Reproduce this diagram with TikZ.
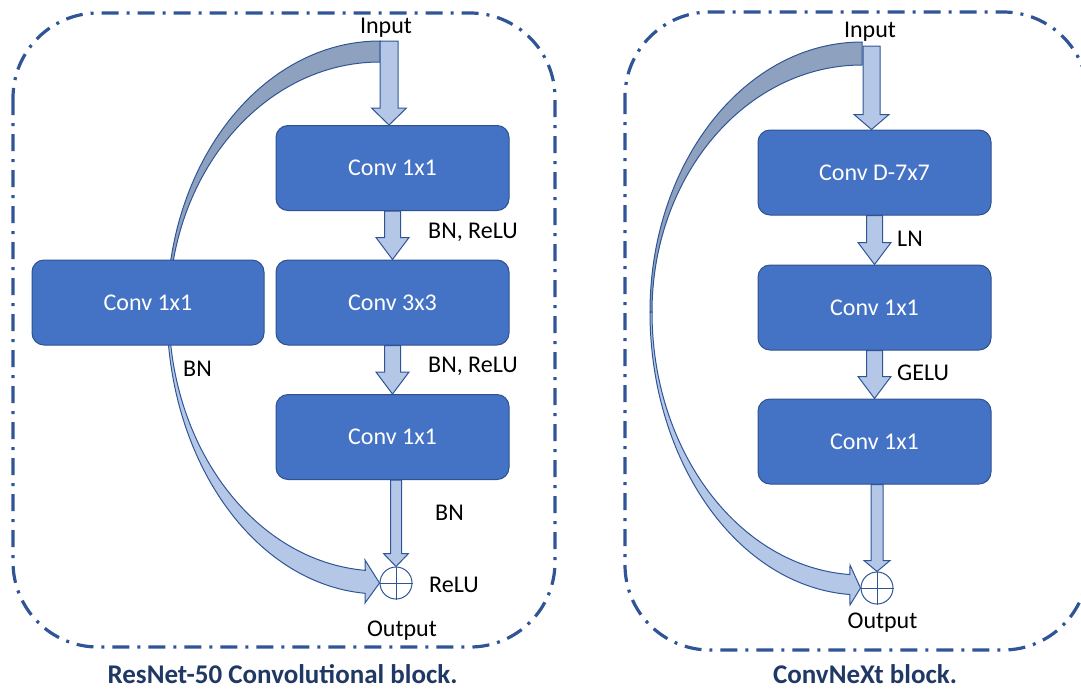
\documentclass[tikz,border=0pt]{standalone}
\usepackage{fontspec}
\setmainfont{Carlito}
\usetikzlibrary{calc}

\definecolor{boxfill}{HTML}{4472C4}
\definecolor{boxline}{HTML}{2F528F}
\definecolor{arrowfill}{HTML}{B4C7E7}
\definecolor{arrowline}{HTML}{2F5597}
\definecolor{bandfill}{HTML}{8EA1BE}
\definecolor{framecol}{HTML}{2F5597}
\definecolor{capcol}{HTML}{1F3864}

% straight block arrow: start, end, shaft half width, head half width, head length
\newcommand{\blockarr}[5]{%
  \draw[arrowshape] let \p1=(#1), \p2=(#2) in
    (\x1-#3pt,\y1) -- (\x1+#3pt,\y1) -- (\x1+#3pt,\y2+#5pt) -- (\x1+#4pt,\y2+#5pt)
    -- (\x1,\y2) -- (\x1-#4pt,\y2+#5pt) -- (\x1-#3pt,\y2+#5pt) -- cycle;}

\begin{document}
\begin{tikzpicture}[x=1pt,y=-1pt,
  convbox/.style={draw=boxline, fill=boxfill, line width=1pt, rounded corners=12pt,
    minimum width=233pt, minimum height=85pt, text=white, inner sep=0pt,
    font=\fontsize{24}{28}\selectfont},
  lbl/.style={font=\fontsize{24}{28}\selectfont, inner sep=0pt, anchor=base west},
  arrowshape/.style={draw=arrowline, fill=arrowfill, line width=1pt, line join=miter},
  bandback/.style={draw=arrowline, fill=bandfill, line width=1pt},
  sumnode/.style={circle, draw=arrowline, fill=white, line width=1pt,
    minimum size=32pt, inner sep=0pt},
  frame/.style={draw=framecol, line width=3.2pt, rounded corners=85pt,
    dash pattern=on 17pt off 8pt on 3pt off 8pt},
  caption/.style={font=\bfseries\fontsize{27}{32}\selectfont, text=capcol,
    inner sep=0pt, anchor=base}]

\useasboundingbox (0,0) rectangle (1081,689);
\clip (0,0) rectangle (1081,689);

% outer dash-dot frames
\draw[frame] (13,13) rectangle (555,647);
\draw[frame] (625,12) rectangle (1088,650);

% adders
\node[sumnode] (sumL) at (396,583) {};
\node[sumnode] (sumR) at (877,588) {};

% ---------------- ResNet-50 block ----------------
\coordinate (cL) at (380,311);
\draw[bandback] ($(cL)+(270:213 and 270)$)
  arc[start angle=270, end angle=180, x radius=213, y radius=270]
  -- ($(cL)+(180:211 and 249)$)
  arc[start angle=180, end angle=270, x radius=211, y radius=249] -- cycle;
\draw[arrowshape] ($(cL)+(180:213 and 283)$)
  arc[start angle=180, end angle=94, x radius=213, y radius=283]
  -- (365,603) -- (sumL.west) -- (365,560)
  -- ($(cL)+(94:211 and 260)$)
  arc[start angle=94, end angle=180, x radius=211, y radius=260] -- cycle;

\node[convbox] (b1) at (392.5,168) {Conv 1x1};
\node[convbox] (b2) at (392.5,302.5) {Conv 3x3};
\node[convbox] (b3) at (392.5,437) {Conv 1x1};
\node[convbox, minimum width=232pt] (sL) at (148,302.5) {Conv 1x1};

\coordinate (inLtop) at (389,41);
\coordinate (botL) at (sumL.north |- b3.south);
\blockarr{inLtop}{b1.north}{9}{17.5}{17}
\blockarr{b1.south}{b2.north}{8}{16.5}{22}
\blockarr{b2.south}{b3.north}{8}{16.5}{22}
\blockarr{botL}{sumL.north}{5.5}{12.5}{13}

\draw[arrowline, line width=1pt] (sumL.north) -- (sumL.south) (sumL.west) -- (sumL.east);

\node[lbl, anchor=base] (inL) at (386,33) {Input};
\node[lbl] (l1) at (428,238) {BN, ReLU};
\node[lbl] (l2) at (428,372) {BN, ReLU};
\node[lbl] (l3) at (183,376) {BN};
\node[lbl] (l4) at (435,520) {BN};
\node[lbl] (l5) at (429,592) {ReLU};
\node[lbl, anchor=base] (outL) at (402,636) {Output};
\node[caption] (capL) at (282.5,683) {ResNet-50 Convolutional block.};

% ---------------- ConvNeXt block ----------------
\coordinate (cR) at (862,312);
\draw[bandback] ($(cR)+(270:212 and 270)$)
  arc[start angle=270, end angle=180, x radius=212, y radius=270]
  -- ($(cR)+(180:210 and 247)$)
  arc[start angle=180, end angle=270, x radius=210, y radius=247] -- cycle;
\draw[arrowshape] ($(cR)+(180:212 and 283)$)
  arc[start angle=180, end angle=93.3, x radius=212, y radius=283]
  -- (850,605) -- (sumR.west) -- (850,565)
  -- ($(cR)+(93.3:210 and 263)$)
  arc[start angle=93.3, end angle=180, x radius=210, y radius=263] -- cycle;

\node[convbox] (r1) at (874.5,172.5) {Conv D-7x7};
\node[convbox] (r2) at (874.5,307.5) {Conv 1x1};
\node[convbox] (r3) at (874.5,441.5) {Conv 1x1};

\coordinate (inRtop) at (871.5,46);
\coordinate (botR) at (sumR.north |- r3.south);
\blockarr{inRtop}{r1.north}{8.5}{17.5}{15}
\blockarr{r1.south}{r2.north}{8}{16.5}{22}
\blockarr{r2.south}{r3.north}{8}{16.5}{22}
\blockarr{botR}{sumR.north}{6}{13}{11}

\draw[arrowline, line width=1pt] (sumR.north) -- (sumR.south) (sumR.west) -- (sumR.east);

\node[lbl, anchor=base] (inR) at (870,37) {Input};
\node[lbl] (m1) at (897,246) {LN};
\node[lbl] (m2) at (897,380) {GELU};
\node[lbl, anchor=base] (outR) at (882.5,628) {Output};
\node[caption] (capR) at (865,683) {ConvNeXt block.};

\end{tikzpicture}
\end{document}
